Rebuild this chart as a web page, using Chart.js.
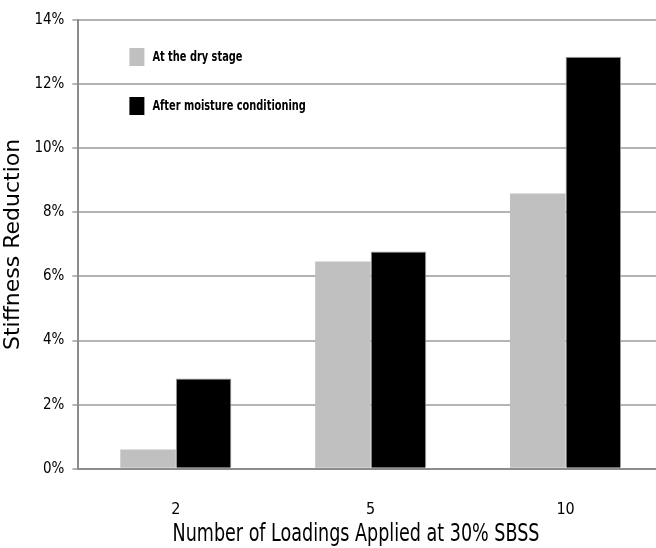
<!DOCTYPE html>
<html>
<head>
<meta charset="utf-8">
<script src="https://cdn.jsdelivr.net/npm/chart.js@4"></script>
<style>
  html, body { margin: 0; padding: 0; background: #fff; overflow: hidden; }
  #wrap { position: relative; width: 672px; height: 548px; }
</style>
</head>
<body>
<div id="wrap"><canvas id="stiffChart"></canvas></div>
<script>
// ข้อมูลของกราฟ
const loadings = ['2', '5', '10'];
const dryStage = [0.6, 6.47, 8.59];
const afterMoisture = [2.82, 6.78, 12.85];
const seriesNames = ['At the dry stage', 'After moisture conditioning'];
const yTicks = [0, 2, 4, 6, 8, 10, 12, 14];
const xTitle = 'Number of Loadings Applied at 30% SBSS';

const narrow = '"DejaVu Sans Condensed", "Liberation Sans Narrow", sans-serif';

// legend และชื่อแกน X วาดเอง (ฟอนต์แคบแบบ Calibri)
const extras = {
    id: 'extras',
    afterDraw(chart) {
        const c = chart.ctx;
        const area = chart.chartArea;
        const squeeze = 0.78;
        c.save();
        // legend ภายในพื้นที่กราฟ
        c.font = 'bold 14px ' + narrow;
        c.textBaseline = 'middle';
        chart.data.datasets.forEach((ds, i) => {
            const y = area.top + 37 + i * 49;
            const x = area.left + 51;
            c.fillStyle = ds.backgroundColor;
            c.fillRect(x, y - 9, 15, 18);
            c.fillStyle = '#000';
            c.save();
            c.translate(x + 23, y);
            c.scale(squeeze, 1);
            c.fillText(ds.label, 0, 0);
            c.restore();
        });
        // ชื่อแกน X
        c.font = '25px ' + narrow;
        c.textAlign = 'center';
        c.textBaseline = 'alphabetic';
        c.fillStyle = '#000';
        c.translate(356, 541);
        c.scale(squeeze, 1);
        c.fillText(xTitle, 0, 0);
        c.restore();
    }
};

const ctx = document.getElementById('stiffChart').getContext('2d');
new Chart(ctx, {
    type: 'bar',
    data: {
        labels: loadings,
        datasets: [{
            label: seriesNames[0],
            data: dryStage,
            backgroundColor: '#c0c0c0',
            borderWidth: 0
        }, {
            label: seriesNames[1],
            data: afterMoisture,
            backgroundColor: '#000000',
            borderColor: '#a0a0a0',
            borderWidth: 1
        }]
    },
    options: {
        responsive: true,
        maintainAspectRatio: false,
        animation: false,
        layout: { padding: { top: 20, right: 9, bottom: -2, left: 0 } },
        datasets: { bar: { categoryPercentage: 0.57, barPercentage: 1.0 } },
        plugins: {
            legend: { display: false },
            tooltip: { enabled: false }
        },
        scales: {
            x: {
                grid: { display: false, drawTicks: false },
                border: { color: '#8c8c8c', width: 2 },
                ticks: { color: '#000', padding: 31, maxRotation: 0, font: { family: narrow, size: 16 } }
            },
            y: {
                min: 0,
                max: 14,
                afterBuildTicks: axis => { axis.ticks = yTicks.map(v => ({ value: v })); },
                grid: { color: '#b4b4b4', lineWidth: 2, tickLength: 6, tickColor: '#b4b4b4' },
                border: { color: '#8c8c8c', width: 2 },
                ticks: {
                    color: '#000',
                    padding: 8,
                    font: { family: narrow, size: 15 },
                    callback: v => v + '%'
                },
                title: {
                    display: true,
                    text: 'Stiffness Reduction',
                    color: '#000',
                    padding: { top: 0, bottom: 0 },
                    font: { family: '"DejaVu Sans", Verdana, sans-serif', size: 22 }
                }
            }
        }
    },
    plugins: [extras]
});
</script>
</body>
</html>
